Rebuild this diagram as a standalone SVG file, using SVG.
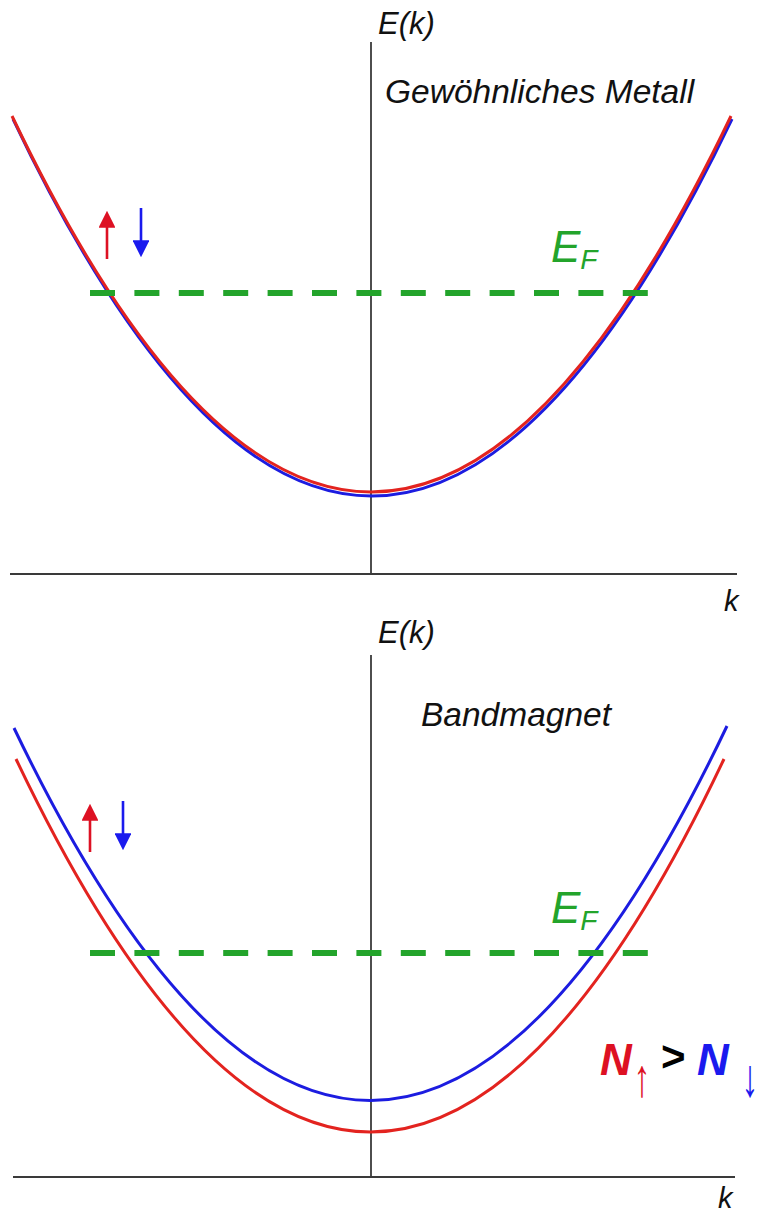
<svg xmlns="http://www.w3.org/2000/svg" width="760" height="1214" viewBox="0 0 760 1214">
<style>
.ax{stroke:#3a3a3a;stroke-width:1.8;fill:none}
.lbl{font-family:"Liberation Sans",Arial,sans-serif;font-style:italic;fill:#111}
.red{stroke:#e3231f;stroke-width:3;fill:none}
.blue{stroke:#1c1ce0;stroke-width:3;fill:none}
.ef{stroke:#23a42b;stroke-width:6;stroke-dasharray:25 19.4;fill:none}
.eft{font-family:"Liberation Sans",Arial,sans-serif;font-style:italic;fill:#23a42b}
.ar{stroke-width:2.6}
</style>
<defs>
<marker id="hr" viewBox="0 0 10 10" refX="1" refY="5" markerWidth="6.5" markerHeight="6.5" markerUnits="strokeWidth" orient="auto"><path d="M0,0 L10,5 L0,10 z" fill="#dd1123"/></marker>
<marker id="hb" viewBox="0 0 10 10" refX="1" refY="5" markerWidth="6.5" markerHeight="6.5" markerUnits="strokeWidth" orient="auto"><path d="M0,0 L10,5 L0,10 z" fill="#1a1aee"/></marker>
</defs>
<rect width="760" height="1214" fill="#fff"/>
<g id="top-panel">
<g id="top-axes">
<line class="ax" x1="371" y1="42" x2="371" y2="574"/>
<line class="ax" x1="10" y1="574" x2="737" y2="574"/>
<text class="lbl" x="378" y="34" font-size="31">E(k)</text>
<text class="lbl" x="724" y="611" font-size="29">k</text>
</g>
<text id="top-title" class="lbl" x="385" y="103" font-size="33.5">Gewöhnliches Metall</text>
<g id="top-bands">
<path class="blue" d="M13,119 Q371,873 732,119"/>
<path class="red" d="M12,116 Q371,868 731,116"/>
</g>
<g id="top-spins">
<line class="ar" stroke="#dd1123" x1="107" y1="259" x2="107" y2="226" marker-end="url(#hr)"/>
<line class="ar" stroke="#1a1aee" x1="141" y1="208" x2="141" y2="242" marker-end="url(#hb)"/>
</g>
<g id="top-ef">
<line class="ef" x1="90" y1="293" x2="648" y2="293"/>
<text class="eft" x="551" y="262" font-size="44">E<tspan font-size="28" dy="7">F</tspan></text>
</g>
</g>
<g id="bottom-panel">
<g id="bottom-axes">
<line class="ax" x1="371" y1="655" x2="371" y2="1177"/>
<line class="ax" x1="13" y1="1177" x2="735" y2="1177"/>
<text class="lbl" x="378" y="643" font-size="31">E(k)</text>
<text class="lbl" x="718" y="1208" font-size="29">k</text>
</g>
<text id="bottom-title" class="lbl" x="421" y="726" font-size="33.5">Bandmagnet</text>
<g id="bottom-bands">
<path class="blue" d="M14,728 Q371,1474 727,726"/>
<path class="red" d="M16,759 Q371,1505 724,759"/>
</g>
<g id="bottom-spins">
<line class="ar" stroke="#dd1123" x1="90" y1="852" x2="90" y2="819" marker-end="url(#hr)"/>
<line class="ar" stroke="#1a1aee" x1="123" y1="801" x2="123" y2="835" marker-end="url(#hb)"/>
</g>
<g id="bottom-ef">
<line class="ef" x1="90" y1="953" x2="648" y2="953"/>
<text class="eft" x="551" y="923" font-size="44">E<tspan font-size="28" dy="7">F</tspan></text>
</g>
<g id="n-compare" font-family="'Liberation Sans',Arial,sans-serif">
<text x="600" y="1075" font-size="44" font-weight="bold" font-style="italic" fill="#dd1123">N</text>
<text transform="translate(642,1096) scale(0.62,1)" font-size="54" text-anchor="middle" fill="#dd1123">↑</text>
<text x="661" y="1071" font-size="42" font-weight="bold" fill="#000">&gt;</text>
<text x="697" y="1075" font-size="44" font-weight="bold" font-style="italic" fill="#1a1aee">N</text>
<text transform="translate(750,1096) scale(0.62,1)" font-size="54" text-anchor="middle" fill="#1a1aee">↓</text>
</g>
</g>
</svg>
